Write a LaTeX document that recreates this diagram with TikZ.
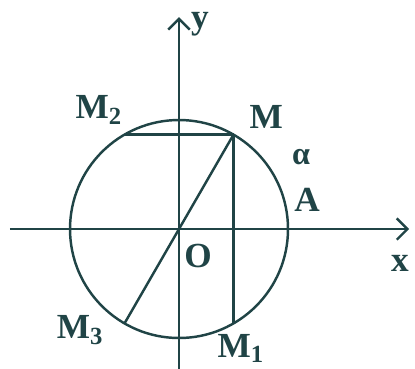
\documentclass[tikz,border=0pt]{standalone}
\usepackage{fontspec}
\setmainfont{Liberation Serif}
\usepackage{tikz}
\usetikzlibrary{arrows.meta,positioning,calc}
\definecolor{InkColor}{RGB}{32,68,70}

\begin{document}
\begin{tikzpicture}[line width=1.6pt, InkColor,
    lbl/.style={font=\fontsize{23}{26}\selectfont\bfseries, inner sep=0pt},
    axis/.style={-{Straight Barb[length=7pt,width=14pt,line width=1.6pt]}}]
  \useasboundingbox (-4.106,-3.189) rectangle (5.413,5.253);
  % unit circle, radius 2.5
  \coordinate (O) at (0,0);
  \coordinate (M) at (60:2.5);
  \coordinate (M1) at (-60:2.5);
  \coordinate (M2) at (120:2.5);
  \coordinate (M3) at (240:2.5);
  \coordinate (xs) at (-3.88,0);
  \coordinate (xe) at (5.28,0);
  \coordinate (ys) at (0,-3.3);
  \coordinate (ye) at (0,4.86);
  \draw (O) circle (2.5);
  \draw[axis] (xs) -- (xe);
  \draw[axis] (ys) -- (ye);
  \draw (M2) -- (M);
  \draw (M) -- (M1);
  \draw (M3) -- (M);
  % labels
  \node[lbl] (ylbl) at (0.48,4.70) {y};
  \node[lbl] (xlbl) at (5.07,-0.78) {x};
  \node[lbl] (Olbl) at (0.44,-0.62) {O};
  \node[lbl] (Albl) at (2.94,0.67) {A};
  \node[lbl, font=\fontsize{21}{24}\selectfont\bfseries] (alpha) at (2.80,1.65) {α};
  \node[lbl] (Mlbl) at (2.00,2.57) {M};
  \node[lbl] (M2lbl) at (-1.84,2.73) {M\textsubscript{2}};
  \node[lbl] (M3lbl) at (-2.27,-2.32) {M\textsubscript{3}};
  \node[lbl] (M1lbl) at (1.42,-2.74) {M\textsubscript{1}};
\end{tikzpicture}
\end{document}
